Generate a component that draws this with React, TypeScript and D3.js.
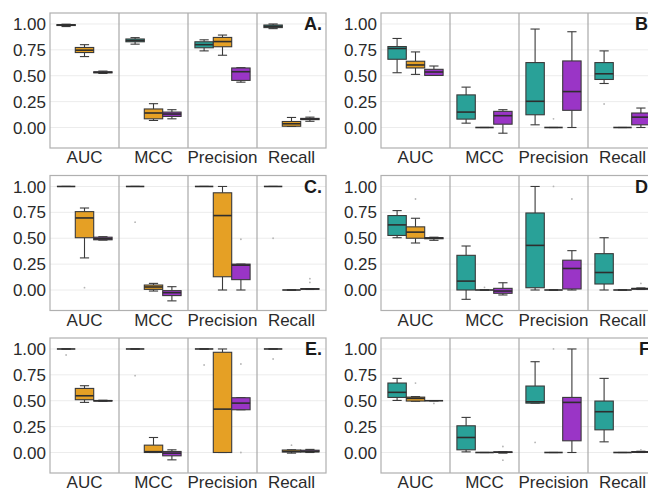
import React from "react";
import * as d3 from "d3";

const metrics = ["AUC", "MCC", "Precision", "Recall"];
const groups = ["G1", "G2", "G3"];
const groupColors = ["#29a198", "#e5a025", "#9a35c6"];
const yTicks = [0, 0.25, 0.5, 0.75, 1];
const panelLabels = ["A.", "B.", "C.", "D.", "E.", "F."];

// box stats per panel: [metric][group] = [lowWhisker, q1, median, q3, highWhisker]
const panelA = [
  [[0.975, 0.985, 0.99, 0.994, 0.998], [0.685, 0.724, 0.747, 0.773, 0.8], [0.522, 0.528, 0.533, 0.538, 0.545]],
  [[0.805, 0.828, 0.84, 0.855, 0.868], [0.068, 0.084, 0.14, 0.179, 0.23], [0.084, 0.107, 0.13, 0.149, 0.172]],
  [[0.74, 0.77, 0.8, 0.828, 0.847], [0.698, 0.78, 0.83, 0.87, 0.893], [0.438, 0.455, 0.539, 0.575, 0.578]],
  [[0.955, 0.965, 0.977, 0.99, 1.0], [0.01, 0.012, 0.036, 0.058, 0.097], [0.06, 0.076, 0.081, 0.088, 0.1]],
];
const panelB = [
  [[0.529, 0.659, 0.763, 0.782, 0.86], [0.513, 0.575, 0.604, 0.64, 0.73], [0.503, 0.503, 0.536, 0.562, 0.594]],
  [[0.042, 0.081, 0.149, 0.315, 0.39], [0, 0, 0, 0, 0], [-0.055, 0.032, 0.114, 0.156, 0.172]],
  [[0.026, 0.123, 0.253, 0.627, 0.951], [0, 0, 0, 0, 0], [0, 0.166, 0.347, 0.643, 0.925]],
  [[0.425, 0.464, 0.519, 0.627, 0.74], [0, 0, 0, 0, 0], [0, 0.026, 0.1, 0.14, 0.188]],
];
const panelC = [
  [[1, 1, 1, 1, 1], [0.31, 0.505, 0.696, 0.757, 0.792], [0.482, 0.485, 0.495, 0.51, 0.515]],
  [[1, 1, 1, 1, 1], [-0.01, 0.006, 0.029, 0.048, 0.064], [-0.105, -0.054, -0.026, -0.006, 0.032]],
  [[1, 1, 1, 1, 1], [0, 0.128, 0.719, 0.939, 1.0], [0, 0.1, 0.24, 0.25, 0.25]],
  [[1, 1, 1, 1, 1], [0, 0, 0, 0, 0], [0.005, 0.008, 0.01, 0.012, 0.014]],
];
const panelD = [
  [[0.505, 0.527, 0.629, 0.719, 0.767], [0.454, 0.5, 0.559, 0.61, 0.693], [0.48, 0.495, 0.502, 0.505, 0.51]],
  [[-0.09, 0, 0.086, 0.335, 0.425], [0, 0, 0, 0, 0], [-0.048, -0.032, -0.01, 0.016, 0.07]],
  [[0, 0.022, 0.431, 0.744, 1.0], [0, 0, 0, 0, 0], [0, 0.01, 0.208, 0.288, 0.38]],
  [[0, 0.058, 0.169, 0.351, 0.505], [0, 0, 0, 0, 0], [0.005, 0.008, 0.012, 0.016, 0.02]],
];
const panelE = [
  [[1, 1, 1, 1, 1], [0.484, 0.51, 0.548, 0.619, 0.645], [0.495, 0.497, 0.5, 0.502, 0.505]],
  [[1, 1, 1, 1, 1], [0, 0, 0.008, 0.071, 0.145], [-0.071, -0.032, -0.006, 0.01, 0.026]],
  [[1, 1, 1, 1, 1], [0, 0, 0.419, 0.968, 1.0], [0.413, 0.413, 0.477, 0.529, 0.53]],
  [[1, 1, 1, 1, 1], [-0.006, 0.005, 0.01, 0.024, 0.026], [0, 0.006, 0.01, 0.022, 0.03]],
];
const panelF = [
  [[0.503, 0.532, 0.581, 0.671, 0.716], [0.495, 0.497, 0.523, 0.535, 0.54], [0.5, 0.5, 0.5, 0.5, 0.5]],
  [[0.006, 0.026, 0.145, 0.258, 0.339], [0, 0, 0, 0, 0], [-0.006, 0, 0.003, 0.006, 0.008]],
  [[0.477, 0.477, 0.49, 0.642, 0.877], [0, 0, 0, 0, 0], [0, 0.113, 0.484, 0.532, 1.0]],
  [[0.103, 0.219, 0.394, 0.497, 0.716], [0, 0, 0, 0, 0], [0, 0.002, 0.005, 0.008, 0.012]],
];
const panels = [panelA, panelB, panelC, panelD, panelE, panelF];

// outliers per panel: [metricIndex, groupIndex, value]
const outliersA = [[3, 2, 0.156]];
const outliersB = [[2, 1, 0.084], [3, 0, 0.227]];
const outliersC = [[0, 1, 0.022], [1, 0, 0.655], [2, 2, 0.49], [3, 0, 0.5], [3, 2, 0.073], [3, 2, 0.109]];
const outliersD = [[0, 1, 0.879], [1, 1, 0.026], [2, 1, 1.0], [2, 2, 0.879], [3, 2, 0.064]];
const outliersE = [[0, 0, 0.942], [1, 0, 0.742], [2, 0, 0.845], [2, 2, 0.855], [2, 2, 0.0], [3, 0, 0.903], [3, 1, 0.071]];
const outliersF = [[0, 1, 0.671], [0, 2, 0.474], [1, 2, 0.058], [1, 2, -0.074], [2, 0, 0.097], [2, 1, 1.0], [3, 2, 0.026]];
const outliers = [outliersA, outliersB, outliersC, outliersD, outliersE, outliersF];

const W = 648;
const H = 488;
const FONT = "'Liberation Sans', Arial, sans-serif";
const colLefts = [50, 381];
const rowTops = [13, 175.5, 338];
const facetW = 69;
const plotH = 135;

function Panel({ idx }: { idx: number }) {
  const col = idx % 2;
  const row = Math.floor(idx / 2);
  const left = colLefts[col];
  const top = rowTops[row];
  const plotW = facetW * 4;
  const y = d3.scaleLinear().domain([-0.198, 1.106]).range([top + plotH, top]);
  const xM = d3.scaleBand().domain(metrics).range([left, left + plotW]);
  const xG = d3.scaleBand().domain(groups).range([facetW * 0.1, facetW * 0.9]);
  const bw = xG.bandwidth();
  const data = panels[idx];
  return (
    <g>
      <rect x={left} y={top} width={plotW} height={plotH} fill="#fff" />
      {yTicks.map((t) => (
        <line key={"g" + t} x1={left} x2={left + plotW} y1={y(t)} y2={y(t)} stroke="#ececec" strokeWidth={1} />
      ))}
      {metrics.map((m, i) =>
        i > 0 ? (
          <line key={"s" + m} x1={xM(m)} x2={xM(m)} y1={top} y2={top + plotH} stroke="#a8a8a8" strokeWidth={1.2} />
        ) : null
      )}
      {metrics.map((m, mi) =>
        groups.map((g, gi) => {
          const s = data[mi][gi];
          const cx = (xM(m) as number) + (xG(g) as number) + bw / 2;
          const x0 = cx - bw / 2;
          return (
            <g key={m + g}>
              <line x1={cx} x2={cx} y1={y(s[4])} y2={y(s[3])} stroke="#3a3a3a" strokeWidth={1.1} />
              <line x1={cx} x2={cx} y1={y(s[1])} y2={y(s[0])} stroke="#3a3a3a" strokeWidth={1.1} />
              <line x1={cx - bw * 0.25} x2={cx + bw * 0.25} y1={y(s[4])} y2={y(s[4])} stroke="#3a3a3a" strokeWidth={1.1} />
              <line x1={cx - bw * 0.25} x2={cx + bw * 0.25} y1={y(s[0])} y2={y(s[0])} stroke="#3a3a3a" strokeWidth={1.1} />
              <rect x={x0} y={y(s[3])} width={bw} height={Math.max(0, y(s[1]) - y(s[3]))} fill={groupColors[gi]} stroke="#3a3a3a" strokeWidth={1.1} />
              <line x1={x0} x2={x0 + bw} y1={y(s[2])} y2={y(s[2])} stroke="#2e2e2e" strokeWidth={1.6} />
            </g>
          );
        })
      )}
      {outliers[idx].map((o, k) => {
        const cx = (xM(metrics[o[0]]) as number) + (xG(groups[o[1]]) as number) + bw / 2;
        return <circle key={"o" + k} cx={cx} cy={y(o[2])} r={0.9} fill="#b5b5b5" />;
      })}
      <rect x={left} y={top} width={plotW} height={plotH} fill="none" stroke="#b0b0b0" strokeWidth={1.2} />
      {yTicks.map((t) => (
        <text key={"t" + t} x={left - 4} y={y(t)} dy="0.36em" textAnchor="end" fontSize={17} fill="#2a2a2a" fontFamily={FONT}>
          {d3.format(".2f")(t)}
        </text>
      ))}
      {metrics.map((m) => (
        <text key={"x" + m} x={(xM(m) as number) + facetW / 2} y={top + plotH + 9} dy="0.36em" textAnchor="middle" fontSize={17} fill="#2a2a2a" fontFamily={FONT}>
          {m}
        </text>
      ))}
      <text x={left + plotW - 4} y={y(1)} dy="0.36em" textAnchor="end" fontSize={18} fontWeight="bold" fill="#1a1a1a" fontFamily={FONT}>
        {panelLabels[idx]}
      </text>
    </g>
  );
}

export default function App() {
  return (
    <svg width={W} height={H} style={{ position: "absolute", left: 0, top: 0, background: "#fff" }}>
      <rect x={0} y={0} width={W} height={H} fill="#fff" />
      {panels.map((_, i) => (
        <Panel key={i} idx={i} />
      ))}
    </svg>
  );
}
